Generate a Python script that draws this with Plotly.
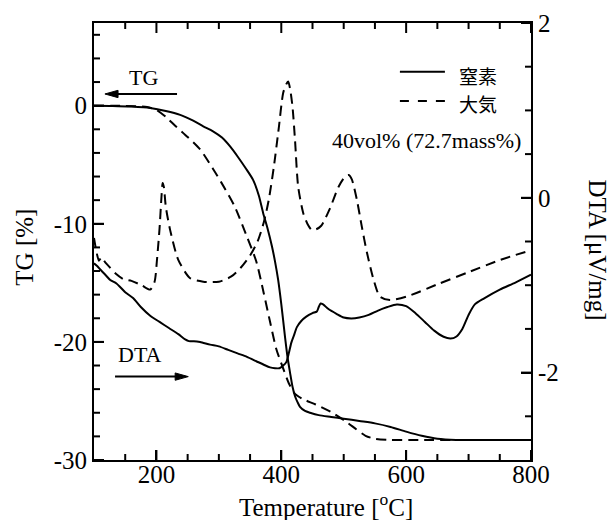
import plotly.graph_objects as go

# ---- TG curves (left axis, %) ----
tg_n2_temp = [100, 130, 160, 190, 215, 238, 258, 275, 290, 305, 318, 330, 343, 355, 364, 371,
              378, 385, 390, 395, 400, 406, 410, 414, 418, 422, 426, 430, 438, 446, 460, 480,
              500, 525, 550, 575, 600, 625, 650, 680, 720, 760, 800]
tg_n2_val = [0, -0.02, -0.08, -0.2, -0.45, -0.78, -1.25, -1.75, -2.15, -2.7, -3.45, -4.3, -5.3,
             -6.3, -7.6, -9.1, -10.4, -11.9, -13.2, -14.75, -16.8, -19.6, -21.3, -22.6, -23.8,
             -24.6, -25.1, -25.5, -25.85, -26.0, -26.2, -26.35, -26.5, -26.7, -26.9, -27.2,
             -27.6, -27.95, -28.2, -28.3, -28.3, -28.3, -28.3]

tg_air_temp = [100, 150, 185, 200, 215, 230, 250, 270, 290, 305, 325, 345, 360, 372, 382, 392,
               402, 412, 422, 435, 455, 480, 505, 520, 535, 550, 575, 620, 700, 800]
tg_air_val = [0, -0.02, -0.12, -0.35, -0.95, -1.7, -2.65, -3.7, -5.3, -6.6, -8.5, -11.1, -13.2,
              -15.9, -18.3, -20.6, -22.1, -23.5, -24.4, -24.85, -25.3, -25.95, -26.8, -27.4,
              -27.95, -28.2, -28.3, -28.3, -28.3, -28.3]

# ---- DTA curves (right axis, uV/mg) ----
dta_n2_temp = [100, 105, 110, 118, 126, 136, 150, 163, 175, 190, 205, 220, 235, 246, 252, 260,
               270, 286, 300, 315, 330, 345, 360, 372, 382, 390, 397, 403, 408, 412, 416, 420,
               425, 432, 440, 450, 457, 460, 463, 467, 475, 489, 500, 512, 525, 540, 555, 570,
               585, 600, 615, 630, 645, 660, 671, 680, 690, 700, 710, 725, 750, 775, 800]
dta_n2_val = [-0.75, -0.78, -0.82, -0.88, -0.94, -0.98, -1.08, -1.15, -1.25, -1.35, -1.42, -1.49,
              -1.56, -1.62, -1.64, -1.64, -1.65, -1.68, -1.7, -1.74, -1.78, -1.82, -1.87, -1.91,
              -1.94, -1.95, -1.95, -1.92, -1.88, -1.78, -1.66, -1.58, -1.48, -1.41, -1.36, -1.32,
              -1.3, -1.25, -1.21, -1.22, -1.27, -1.33, -1.37, -1.38, -1.37, -1.34, -1.29, -1.25,
              -1.22, -1.24, -1.32, -1.42, -1.52, -1.59, -1.61, -1.59, -1.5, -1.34, -1.22, -1.15,
              -1.05, -0.97, -0.88]

dta_air_temp = [100, 104, 108, 112, 118, 126, 135, 147, 160, 176, 190, 197, 201, 205, 208, 210,
                212, 215, 222, 235, 254, 275, 300, 320, 335, 350, 362, 372, 380, 388, 396, 403,
                408, 411, 414, 418, 422, 427, 435, 442, 449, 456, 464, 478, 492, 502, 508, 513,
                521, 529, 537, 548, 558, 574, 601, 650, 700, 751, 800]
dta_air_val = [-0.46, -0.62, -0.72, -0.68, -0.74, -0.8, -0.87, -0.93, -0.95, -1.0, -1.05, -0.96,
               -0.7, -0.35, 0.0, 0.17, 0.12, -0.1, -0.37, -0.71, -0.92, -0.96, -0.96, -0.9,
               -0.8, -0.66, -0.5, -0.28, -0.02, 0.35, 0.8, 1.2, 1.3, 1.33, 1.25, 1.04, 0.66,
               0.13, -0.17, -0.3, -0.37, -0.36, -0.32, -0.12, 0.13, 0.24, 0.26, 0.21, -0.02,
               -0.33, -0.62, -0.94, -1.13, -1.17, -1.13, -0.99, -0.85, -0.71, -0.6]

# ---- axis ticks ----
x_ticks = [200, 400, 600, 800]
x_tick_text = ["200", "400", "600", "800"]
x_minor = [150, 250, 300, 350, 450, 500, 550, 650, 700, 750]
tg_ticks = [-30, -20, -10, 0]
tg_tick_text = ["-30", "-20", "-10", "0"]
tg_minor = [-28, -26, -24, -22, -18, -16, -14, -12, -8, -6, -4, -2, 2, 4, 6]
dta_ticks = [-2, 0, 2]
dta_tick_text = ["-2", "0", "2"]
dta_minor = [-2.5, -1.5, -1, -0.5, 0.5, 1, 1.5]

X_RANGE = [100, 800]
TG_RANGE = [-30, 7]
DTA_RANGE = [-3, 2]

legend_names = ["窒素", "大気"]

SERIF = "Liberation Serif"
LW = 2
DASH = "10px,6px"
PLOT_PX = 437           # plot area is 437 x 437 px
MAJOR_PX, MINOR_PX = 10, 6

fig = go.Figure()

def add_curve(x, y, dash, yaxis):
    fig.add_trace(go.Scatter(
        x=x, y=y, mode="lines", yaxis=yaxis, showlegend=False,
        line=dict(color="black", width=LW, dash=dash, shape="spline", smoothing=0.7),
        hoverinfo="skip",
    ))

add_curve(tg_n2_temp, tg_n2_val, "solid", "y")
add_curve(tg_air_temp, tg_air_val, DASH, "y")
add_curve(dta_n2_temp, dta_n2_val, "solid", "y2")
add_curve(dta_air_temp, dta_air_val, DASH, "y2")

tick_font = dict(family=SERIF, size=25, color="black")

def axis_style(rng, ticks, text, standoff):
    return dict(
        range=rng, tickmode="array", tickvals=ticks, ticktext=text,
        ticks="inside", ticklen=10, tickwidth=2, tickcolor="black",
        showline=True, linewidth=2, linecolor="black",
        showgrid=False, zeroline=False, tickfont=tick_font, ticklabelstandoff=standoff,
    )

fig.update_layout(
    template="none",
    width=612, height=520, autosize=False,
    margin=dict(l=94, r=81, t=23, b=60),
    paper_bgcolor="white", plot_bgcolor="white",
    font=dict(family=SERIF, color="black"),
    xaxis=dict(mirror=True, **axis_style(X_RANGE, x_ticks, x_tick_text, -9)),
    yaxis=axis_style(TG_RANGE, tg_ticks, tg_tick_text, 0),
    yaxis2=dict(overlaying="y", side="right", **axis_style(DTA_RANGE, dta_ticks, dta_tick_text, 0)),
)

title_font = dict(family=SERIF, size=25, color="black")
label_font = dict(family=SERIF, size=22, color="black")
cjk_font = dict(family="Noto Sans CJK JP", size=19, color="black")

annotations = [
    # axis titles
    dict(text="Temperature [<sup>o</sup>C]", xref="paper", yref="paper", x=0.53, y=-0.103,
         xanchor="center", yanchor="middle", showarrow=False, font=title_font),
    dict(text="TG [%]", xref="paper", yref="paper", x=-0.158, y=0.488, textangle=-90,
         xanchor="center", yanchor="middle", showarrow=False, font=title_font),
    dict(text="DTA [μV/mg]", xref="paper", yref="paper", x=1.153, y=0.48, textangle=90,
         xanchor="center", yanchor="middle", showarrow=False, font=title_font),
    # arrow labels
    dict(text="TG", xref="x", yref="y", x=180, y=2.42, showarrow=False, font=label_font),
    dict(text="DTA", xref="x", yref="y", x=174, y=-21.1, showarrow=False, font=label_font),
    # legend text
    dict(text=legend_names[0], xref="paper", yref="paper", x=0.831, y=0.881,
         xanchor="left", yanchor="middle", showarrow=False, font=cjk_font),
    dict(text=legend_names[1], xref="paper", yref="paper", x=0.831, y=0.815,
         xanchor="left", yanchor="middle", showarrow=False, font=cjk_font),
    dict(text="40vol% (72.7mass%)", xref="paper", yref="paper", x=0.981, y=0.732,
         xanchor="right", yanchor="middle", showarrow=False, font=label_font),
]
fig.update_layout(annotations=annotations)

# axis units per screen pixel, used to size the inward tick marks
x_per_px = (X_RANGE[1] - X_RANGE[0]) / PLOT_PX
tg_per_px = (TG_RANGE[1] - TG_RANGE[0]) / PLOT_PX

tick_line = dict(color="black", width=2)
shapes = []
for vals, px in ((x_ticks, MAJOR_PX), (x_minor, MINOR_PX)):
    for v in vals:
        shapes.append(dict(type="line", xref="x", yref="y", x0=v, x1=v,
                           y0=TG_RANGE[0], y1=TG_RANGE[0] + px * tg_per_px, line=tick_line))
        shapes.append(dict(type="line", xref="x", yref="y", x0=v, x1=v,
                           y0=TG_RANGE[1], y1=TG_RANGE[1] - px * tg_per_px, line=tick_line))
for vals, px in ((tg_ticks, MAJOR_PX), (tg_minor, MINOR_PX)):
    for v in vals:
        shapes.append(dict(type="line", xref="x", yref="y", x0=X_RANGE[0],
                           x1=X_RANGE[0] + px * x_per_px, y0=v, y1=v, line=tick_line))
for vals, px in ((dta_ticks, MAJOR_PX), (dta_minor, MINOR_PX)):
    for v in vals:
        shapes.append(dict(type="line", xref="x", yref="y2", x0=X_RANGE[1],
                           x1=X_RANGE[1] - px * x_per_px, y0=v, y1=v, line=tick_line))

shapes += [
    # TG arrow (points left)
    dict(type="line", xref="x", yref="y", x0=136, x1=233, y0=0.99, y1=0.99,
         line=dict(color="black", width=2)),
    dict(type="path", xref="x", yref="y", path="M 117.5,0.99 L 138.5,1.3 L 138.5,0.68 Z",
         fillcolor="black", line=dict(color="black", width=1)),
    # DTA arrow (points right)
    dict(type="line", xref="x", yref="y", x0=133.7, x1=233, y0=-22.94, y1=-22.94,
         line=dict(color="black", width=2)),
    dict(type="path", xref="x", yref="y", path="M 251,-22.94 L 230,-22.63 L 230,-23.25 Z",
         fillcolor="black", line=dict(color="black", width=1)),
    # legend keys
    dict(type="line", xref="paper", yref="paper", x0=0.700, x1=0.803, y0=0.8886, y1=0.8886,
         line=dict(color="black", width=LW)),
    dict(type="line", xref="paper", yref="paper", x0=0.700, x1=0.803, y0=0.8215, y1=0.8215,
         line=dict(color="black", width=LW, dash="9px,9px")),
]
fig.update_layout(shapes=shapes)

fig.write_html("out.html")
